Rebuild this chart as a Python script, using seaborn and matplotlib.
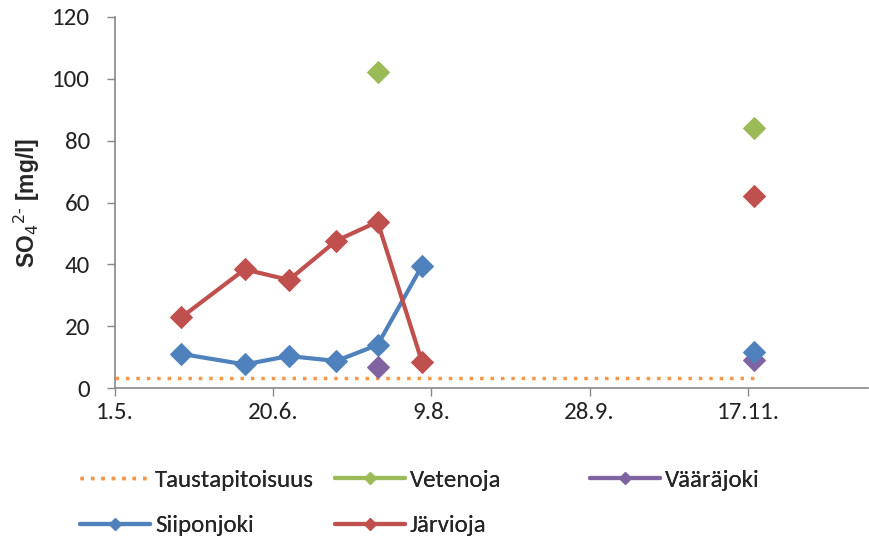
import pandas as pd
import matplotlib
matplotlib.use("Agg")
import matplotlib.pyplot as plt
import matplotlib.dates as mdates
import seaborn as sns

# sample dates (day.month.) and SO4 values
siipon_dates = ["2011-05-22", "2011-06-11", "2011-06-25", "2011-07-10", "2011-07-23", "2011-08-06", "2011-11-19"]
siipon_vals = [11.1, 7.7, 10.4, 8.8, 14.0, 39.5, 11.8]
siipon_seg = [0, 0, 0, 0, 0, 0, 1]

jarvi_dates = ["2011-05-22", "2011-06-11", "2011-06-25", "2011-07-10", "2011-07-23", "2011-08-06", "2011-11-19"]
jarvi_vals = [22.9, 38.4, 35.0, 47.7, 53.8, 8.6, 62.1]
jarvi_seg = [0, 0, 0, 0, 0, 0, 1]

veten_dates = ["2011-07-23", "2011-11-19"]
veten_vals = [102.2, 84.0]

vaara_dates = ["2011-07-23", "2011-11-19"]
vaara_vals = [7.0, 9.1]

tausta_dates = ["2011-05-01", "2011-11-21"]
tausta_vals = [3.4, 3.4]

tick_dates = ["2011-05-01", "2011-06-20", "2011-08-09", "2011-09-28", "2011-11-17"]
tick_labels = ["1.5.", "20.6.", "9.8.", "28.9.", "17.11."]

colors = {"Taustapitoisuus": "#F79646", "Vetenoja": "#9BBB59", "Vääräjoki": "#8064A2",
          "Siiponjoki": "#4F81BD", "Järvioja": "#C0504D"}

sns.set_style("white")
plt.rcParams["font.family"] = ["Carlito", "Lato", "DejaVu Sans"]

fig = plt.figure(figsize=(8.7, 5.43), dpi=100)
ax = fig.add_axes([0.132, 0.285, 0.866, 0.684])

def frame(dates, vals, seg=None):
    d = pd.DataFrame({"date": pd.to_datetime(dates), "val": vals})
    d["seg"] = seg if seg is not None else list(range(len(vals)))
    return d

sns.lineplot(data=frame(tausta_dates, tausta_vals), x="date", y="val", color=colors["Taustapitoisuus"],
             linestyle=(0, (1, 2)), linewidth=2.5, ax=ax, label="Taustapitoisuus")
sns.lineplot(data=frame(veten_dates, veten_vals), x="date", y="val", units="seg", estimator=None,
             color=colors["Vetenoja"], marker="D", markersize=11, markeredgecolor=colors["Vetenoja"],
             linewidth=3, ax=ax, label="Vetenoja")
sns.lineplot(data=frame(vaara_dates, vaara_vals), x="date", y="val", units="seg", estimator=None,
             color=colors["Vääräjoki"], marker="D", markersize=11, markeredgecolor=colors["Vääräjoki"],
             linewidth=3, ax=ax, label="Vääräjoki")
sns.lineplot(data=frame(siipon_dates, siipon_vals, siipon_seg), x="date", y="val", units="seg", estimator=None,
             color=colors["Siiponjoki"], marker="D", markersize=11, markeredgecolor=colors["Siiponjoki"],
             linewidth=3, ax=ax, label="Siiponjoki")
sns.lineplot(data=frame(jarvi_dates, jarvi_vals, jarvi_seg), x="date", y="val", units="seg", estimator=None,
             color=colors["Järvioja"], marker="D", markersize=11, markeredgecolor=colors["Järvioja"],
             linewidth=3, ax=ax, label="Järvioja")

ax.set_xlim(mdates.date2num(pd.Timestamp("2011-05-01")), mdates.date2num(pd.Timestamp("2011-12-25")))
ax.set_ylim(0, 120)
ax.set_yticks(range(0, 121, 20))
ax.set_xticks(mdates.date2num(pd.to_datetime(tick_dates)))
ax.set_xticklabels(tick_labels)
ax.tick_params(axis="both", labelsize=18, length=6, width=1, direction="out",
               left=True, bottom=True, colors="#222222")
ax.tick_params(axis="y", pad=12)
ax.tick_params(axis="x", pad=4)
ax.tick_params(axis="both", color="#888888")
for side in ["top", "right"]:
    ax.spines[side].set_visible(False)
for side in ["left", "bottom"]:
    ax.spines[side].set_color("#888888")
    ax.spines[side].set_linewidth(1.2)
ax.set_xlabel("")
ax.set_ylabel(r"SO$_4$$^{2\text{-}}$ [mg/l]", fontsize=16.5, fontweight="bold",
              family="Liberation Sans", labelpad=7)

# legend laid out like Excel: equal column widths, filled row by row
handles, labels = ax.get_legend_handles_labels()
hmap = dict(zip(labels, handles))
ax.get_legend().remove()
columns = [(["Taustapitoisuus", "Siiponjoki"], 0.092),
           (["Vetenoja", "Järvioja"], 0.385),
           (["Vääräjoki"], 0.678)]
for names, xpos in columns:
    leg = fig.legend([hmap[k] for k in names], names, loc="upper left", bbox_to_anchor=(xpos, 0.135),
                     frameon=False, fontsize=18, handlelength=2.8, handletextpad=0.2,
                     labelspacing=0.95, markerscale=0.6, borderpad=0, borderaxespad=0)
    fig.add_artist(leg)

fig.savefig("out.png", dpi=100)
